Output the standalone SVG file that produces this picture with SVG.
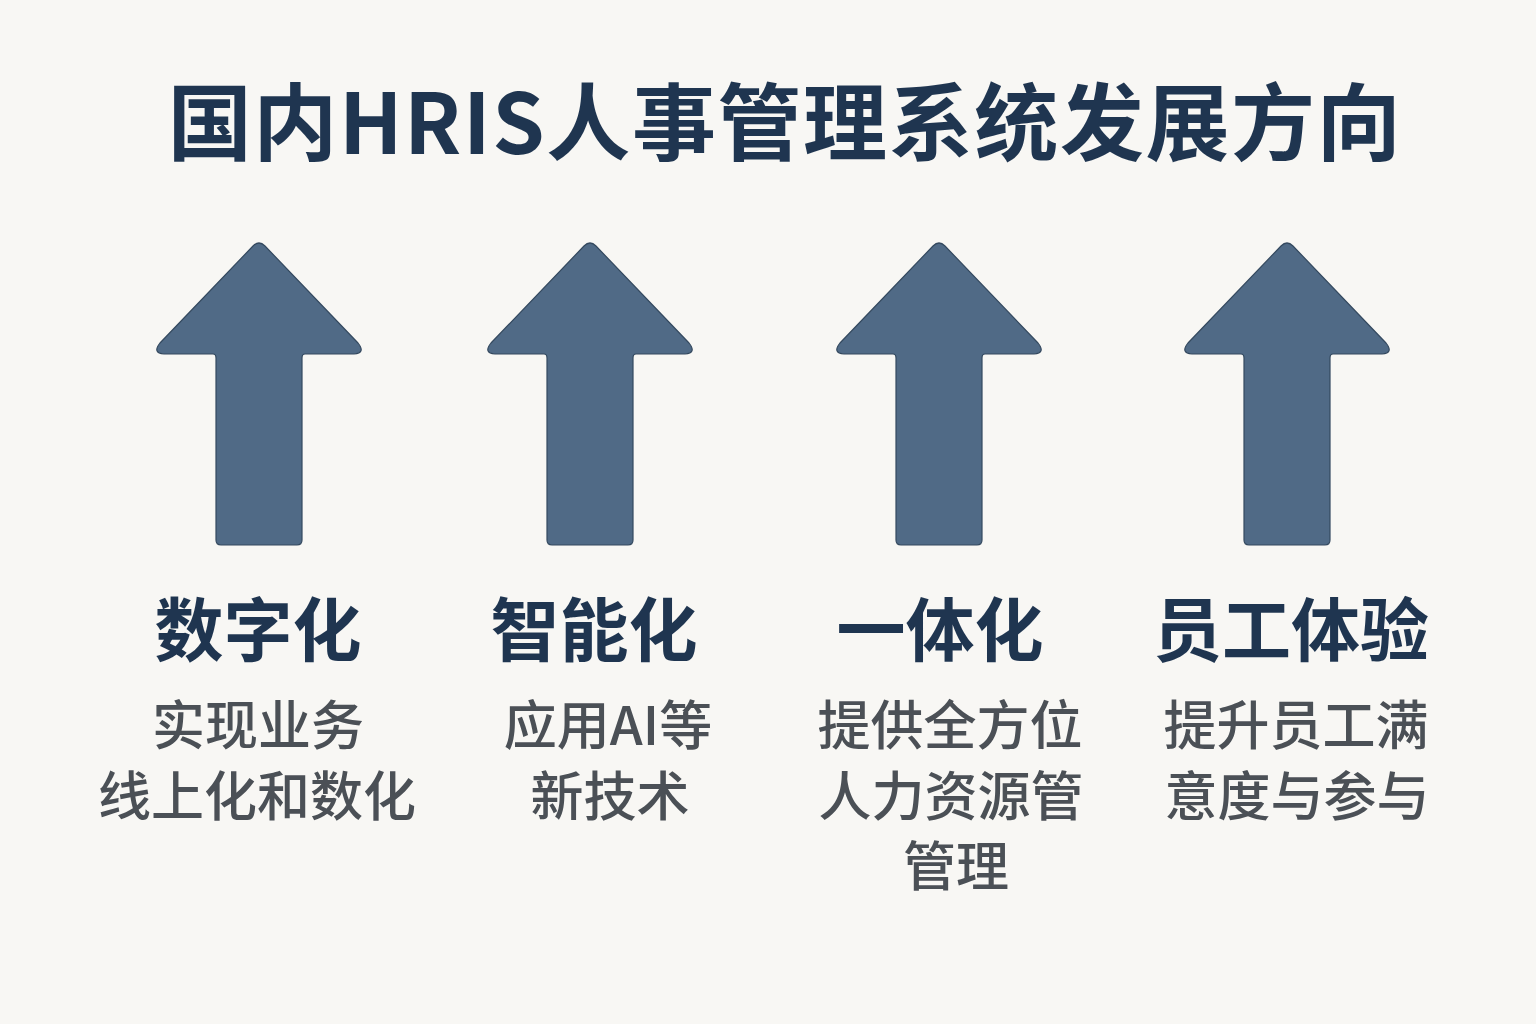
<svg xmlns="http://www.w3.org/2000/svg" width="1536" height="1024" viewBox="0 0 1536 1024">
<style>
.title{font-family:"Noto Sans CJK SC","Noto Sans",sans-serif;font-weight:700;font-size:84px;letter-spacing:1.6px;fill:#1f3550;text-anchor:middle}
.head{font-family:"Noto Sans CJK SC","Noto Sans",sans-serif;font-weight:700;font-size:69px;fill:#1f3550;text-anchor:middle}
.body{font-family:"Noto Sans CJK SC","Noto Sans",sans-serif;font-weight:500;font-size:53px;fill:#4b5056;text-anchor:middle}
.arrow{fill:#506a86;stroke:#34495f;stroke-width:1.2}
</style>
<defs>
<path id="arr" class="arrow" d="M -6,3 Q 0,-3 6,3 L 99,100 Q 107,110 95,111 L 46,111 Q 43,111 43,115 L 43,297 Q 43,302 38,302 L -38,302 Q -43,302 -43,297 L -43,115 Q -43,111 -46,111 L -95,111 Q -107,110 -99,100 Z"/>
</defs>
<rect width="1536" height="1024" fill="#f8f7f4"/>
<g id="title"><text class="title" x="785" y="154">国内HRIS人事管理系统发展方向</text></g>
<g id="node-1">
<use href="#arr" x="259" y="243"/>
<text class="head" x="258" y="656">数字化</text>
<text class="body" x="258" y="745">实现业务</text>
<text class="body" x="257" y="816">线上化和数化</text>
</g>
<g id="node-2">
<use href="#arr" x="590" y="243"/>
<text class="head" x="594" y="656">智能化</text>
<text class="body" x="608" y="745">应用AI等</text>
<text class="body" x="610" y="816">新技术</text>
</g>
<g id="node-3">
<use href="#arr" x="939" y="243"/>
<text class="head" x="940" y="656">一体化</text>
<text class="body" x="950" y="745">提供全方位</text>
<text class="body" x="951" y="816">人力资源管</text>
<text class="body" x="956" y="886">管理</text>
</g>
<g id="node-4">
<use href="#arr" x="1287" y="243"/>
<text class="head" x="1291" y="656">员工体验</text>
<text class="body" x="1296" y="745">提升员工满</text>
<text class="body" x="1297" y="816">意度与参与</text>
</g>
<g id="connectors"></g>
</svg>
